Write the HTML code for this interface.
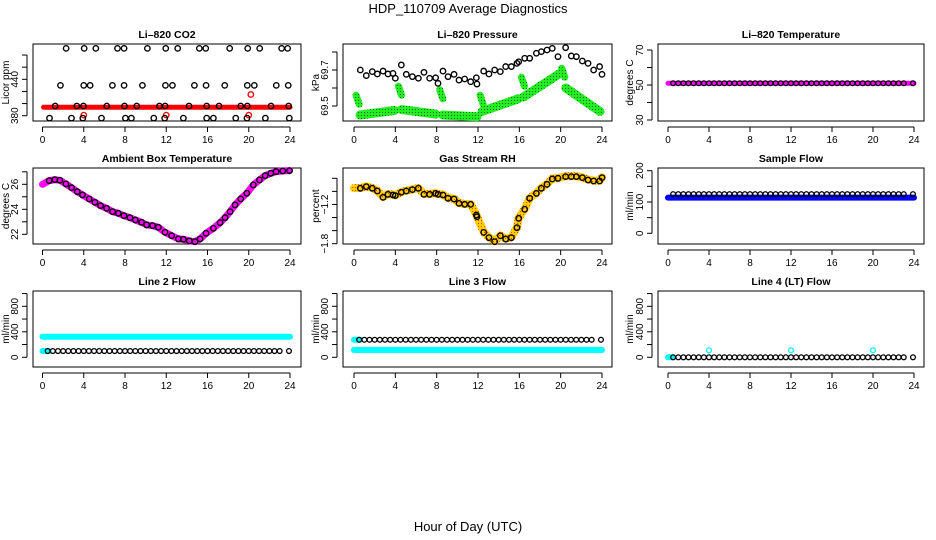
<!DOCTYPE html>
<html><head><meta charset="utf-8">
<style>
body{margin:0;background:#fff;}
svg{display:block;font-family:"Liberation Sans",Arial,sans-serif;}
</style></head>
<body>
<svg id="chart" width="936" height="540" viewBox="0 0 936 540">
<defs>
<pattern id="dots" width="3" height="3" patternUnits="userSpaceOnUse"><rect width="3" height="3" fill="#22ee22"/><rect x="1" y="1" width="1" height="1" fill="#116611"/></pattern>
<pattern id="odots" width="3" height="3" patternUnits="userSpaceOnUse"><rect width="3" height="3" fill="#ffcc00"/><rect x="1" y="1" width="1" height="1" fill="#ee4400"/></pattern>
</defs>
<text x="468" y="13" text-anchor="middle" font-size="13">HDP_110709  Average Diagnostics</text>
<text x="468" y="531" text-anchor="middle" font-size="13">Hour of Day (UTC)</text>
</svg>
<script>
// ---------- data ----------
const xTicks = [0,4,8,12,16,20,24];
const hrs = [0.5,1,1.5,2,2.5,3,3.5,4,4.5,5,5.5,6,6.5,7,7.5,8,8.5,9,9.5,10,10.5,11,11.5,12,12.5,13,13.5,14,14.5,15,15.5,16,16.5,17,17.5,18,18.5,19,19.5,20,20.5,21,21.5,22,22.5,23,23.9];

const co2Hours = [0.68,1.23,1.74,2.29,2.81,3.33,3.91,3.97,4.0,4.04,4.62,5.17,5.72,6.23,6.78,7.27,7.91,7.91,7.95,8.04,8.62,9.14,9.69,10.17,10.79,11.34,11.85,11.89,11.92,11.95,12.6,13.11,13.66,14.21,14.73,15.21,15.83,15.86,15.92,15.92,16.57,17.12,17.67,18.15,18.74,19.22,19.83,19.86,19.86,19.9,20.54,21.06,21.61,22.16,22.67,23.19,23.77,23.83,23.87,23.93];
const co2Vals = [376,396,430,491,376,396,376,396,430,491,430,491,376,396,430,491,491,430,396,376,376,396,430,491,376,396,376,396,430,491,430,491,376,396,430,491,491,430,396,376,376,396,430,491,376,396,376,396,430,491,430,491,376,396,430,491,491,430,396,376];
const co2RedOutH = [4.0,12.0,20.0,20.2];
const co2RedOutV = [381,381,381,415];
const co2BandV = 394;

const presHours = [0.61,1.19,1.77,2.26,2.81,3.29,3.77,4.0,4.58,5.06,5.65,6.23,6.77,7.32,7.9,8.13,8.61,9.1,9.68,10.16,10.71,11.29,11.84,11.9,12.55,13.06,13.61,14.16,14.68,15.23,15.77,15.94,16.52,17.0,17.65,18.13,18.68,19.19,19.74,20.48,21.03,21.52,22.1,22.65,23.19,23.77,24.0];
const presVals = [69.7,69.669,69.691,69.678,69.694,69.678,69.681,69.654,69.728,69.676,69.663,69.654,69.687,69.654,69.657,69.626,69.694,69.663,69.676,69.644,69.65,69.635,69.657,69.622,69.694,69.678,69.7,69.691,69.719,69.719,69.737,69.746,69.765,69.765,69.793,69.802,69.811,69.82,69.774,69.824,69.778,69.774,69.75,69.737,69.7,69.719,69.676];
const greenStart = [0.6,4.6,8.6,12.4,16.4,20.5];
const greenEnd = [3.9,7.9,11.9,15.9,19.9,23.8];
const greenV0 = [69.45,69.48,69.45,69.47,69.55,69.60];
const greenV1 = [69.475,69.455,69.44,69.54,69.68,69.47];
const blobH = [0.2,4.3,8.3,12.2,16.2,20.1];
const blobV = [69.56,69.61,69.59,69.56,69.66,69.71];

const licorTempVals = hrs.map(()=>51);
const ambHours = [0.65,1.2,1.68,2.27,2.82,3.37,3.88,4.53,5.08,5.63,6.21,6.8,7.35,7.9,8.48,9.0,9.61,10.1,10.68,11.23,11.88,12.52,13.17,13.66,14.24,14.79,15.28,15.86,16.57,17.22,17.7,18.19,18.67,19.22,19.81,20.45,21.04,21.59,22.14,22.65,23.3,23.95];
const ambVals = [26.29,26.37,26.32,26.03,25.73,25.41,25.15,24.83,24.56,24.29,24.08,23.81,23.68,23.49,23.33,23.15,22.96,22.75,22.69,22.56,22.16,21.89,21.63,21.6,21.47,21.41,21.63,22.08,22.48,22.93,23.33,23.81,24.35,24.83,25.28,25.95,26.35,26.69,26.88,27.01,27.07,27.09];
const rhVals = [-0.953,-0.928,-0.953,-0.994,-1.091,-1.045,-1.055,-1.065,-1.014,-0.994,-0.973,-0.953,-1.045,-1.045,-1.03,-1.045,-1.055,-1.106,-1.116,-1.183,-1.198,-1.198,-1.361,-1.387,-1.627,-1.708,-1.769,-1.678,-1.729,-1.708,-1.555,-1.412,-1.274,-1.106,-1.03,-0.953,-0.892,-0.81,-0.8,-0.774,-0.774,-0.774,-0.79,-0.826,-0.841,-0.841,-0.79];
const sampleBlack = 125, sampleBlue = 114;
const line2Cyan = 322, line2Black = 98;
const line3Black = 275, line3Cyan = 115;
const line4Black = 0;
const line4CyanOutH = [4,12,20];
const line4CyanOutV = [110,110,110];

// ---------- layout ----------
const NS='http://www.w3.org/2000/svg';
const svg=document.getElementById('chart');
const cols=[{b0:33,b1:301,xa:42.5,xb:290,yl:9},{b0:343,b1:612,xa:354,xb:602,yl:319},{b0:658,b1:924,xa:668,xb:914,yl:633}];
const rows=[{t:44,b:121},{t:168,b:244},{t:291,b:367}];
function el(tag,attrs,parent){const e=document.createElementNS(NS,tag);for(const k in attrs)e.setAttribute(k,attrs[k]);(parent||svg).appendChild(e);return e;}

function panel(name,title,ci,ri,ylab,v0,p0,v1,p1,yticks,ylabels){
  const c=cols[ci],r=rows[ri];
  const g=el('g',{});
  
  
  const X=h=>c.xa+(h/24)*(c.xb-c.xa);
  const Y=v=>p0+(v-v0)*(p1-p0)/(v1-v0);
  const box=el('rect',{x:c.b0,y:r.t,width:c.b1-c.b0,height:r.b-r.t,fill:'none',stroke:'#000','stroke-width':1},g);
  
  
  const t=el('text',{x:(c.b0+c.b1)/2,y:r.t-6,'text-anchor':'middle','font-size':10.5,'font-weight':'bold'},g);
  t.textContent=title;
  
  
  const xa=el('g',{},g);
  
  
  el('line',{x1:X(0),x2:X(24),y1:r.b+6,y2:r.b+6,stroke:'#000'},xa);
  xTicks.forEach(h=>{
    el('line',{x1:X(h),x2:X(h),y1:r.b+6,y2:r.b+11,stroke:'#000'},xa);
    const tl=el('text',{x:X(h),y:r.b+22,'text-anchor':'middle','font-size':10},xa);tl.textContent=h;
    
    
  });
  const ya=el('g',{},g);
  
  
  el('line',{x1:c.b0-6,x2:c.b0-6,y1:Y(yticks[0]),y2:Y(yticks[yticks.length-1]),stroke:'#000'},ya);
  yticks.forEach(v=>el('line',{x1:c.b0-11,x2:c.b0-6,y1:Y(v),y2:Y(v),stroke:'#000'},ya));
  ylabels.forEach(v=>{
    const yy=Y(v);
    const tl=el('text',{x:c.b0-15,y:yy,'text-anchor':'middle','font-size':10,transform:`rotate(-90 ${c.b0-15} ${yy})`},ya);
    tl.textContent=String(v).replace('-','\u2212');
    
    
  });
  const yt=el('text',{x:c.yl,y:(r.t+r.b)/2,'text-anchor':'middle','font-size':10,transform:`rotate(-90 ${c.yl} ${(r.t+r.b)/2})`},g);
  yt.textContent=ylab;
  
  
  return {g,X,Y};
}
function circles(p,hs,vs,color,name,r,sw){
  hs.forEach((h,i)=>{const cc=el('circle',{cx:p.X(h),cy:p.Y(vs[i]),r:r||2.7,fill:'none',stroke:color,'stroke-width':sw||1.4},p.g);
    
    });
}
function band(p,h0,h1,v0,v1,color,w,name){
  const l=el('line',{x1:p.X(h0),x2:p.X(h1),y1:p.Y(v0),y2:p.Y(v1),stroke:color,'stroke-width':w,'stroke-linecap':'round'},p.g);
  
  
}
function poly(p,hs,vs,color,w,name){
  const l=el('polyline',{points:hs.map((h,i)=>p.X(h)+','+p.Y(vs[i])).join(' '),fill:'none',stroke:color,'stroke-width':w,'stroke-linejoin':'round','stroke-linecap':'round'},p.g);
  
  
}
const constArr=(n,v)=>Array(n).fill(v);

// CO2
let p=panel('co2','Li\u2013820 CO2',0,0,'Licor ppm',380,115.7,440,79.3,[380,400,420,440,460,480],[380,440]);
band(p,0.1,24,co2BandV,co2BandV,'#ff0000',5,'co2-red-band');
circles(p,co2RedOutH,co2RedOutV,'#ff0000','co2-red-point');
circles(p,co2Hours,co2Vals,'#000','co2-point');
// Pressure
p=panel('pressure','Li\u2013820 Pressure',1,0,'kPa',69.5,106,69.7,70,[69.5,69.6,69.7,69.8],[69.5,69.7]);
greenStart.forEach((s,i)=>{band(p,s,greenEnd[i],greenV0[i],greenV1[i],'url(#dots)',9,'pressure-green-band');
  band(p,blobH[i],blobH[i]+0.3,blobV[i],blobV[i]-0.05,'url(#dots)',7,'pressure-green-blob');});
circles(p,presHours,presVals,'#000','pressure-point');
// Li-820 temperature
p=panel('licor-temp','Li\u2013820 Temperature',2,0,'degrees C',30,120,70,50,[30,40,50,60,70],[30,50,70]);
band(p,0,24,51,51,'#ff00ff',5,'licor-temp-band');
circles(p,hrs,licorTempVals,'#000','licor-temp-point',2.4,1.3);
// Ambient
p=panel('ambient','Ambient Box Temperature',0,1,'degrees C',22,234.3,26,184.3,[22,23,24,25,26,27],[22,24,26]);
poly(p,[0].concat(ambHours),[26.0].concat(ambVals),'#ff00ff',7,'ambient-magenta-trace');
circles(p,ambHours,ambVals,'#000','ambient-point');
// RH
p=panel('rh','Gas Stream RH',1,1,'percent',-0.8,178.3,-1.8,243.7,[-0.8,-1.0,-1.2,-1.4,-1.6,-1.8],[-1.2,-1.8]);
poly(p,[0].concat(presHours),[-0.95].concat(rhVals.map(v=>v+0.005)),'url(#odots)',8,'rh-orange-trace');
circles(p,presHours,rhVals,'#000','rh-point');
// Sample flow
p=panel('sample-flow','Sample Flow',2,1,'ml/min',0,233.3,200,170.7,[0,50,100,150,200],[0,100,200]);
band(p,0,24,sampleBlue,sampleBlue,'#0000ff',6,'sample-flow-blue-band');
circles(p,hrs,constArr(hrs.length,sampleBlack),'#000','sample-flow-point',2.4,1.3);
// Line 2
p=panel('line2','Line 2 Flow',0,2,'ml/min',0,357.3,800,306.3,[0,200,400,600,800,1000],[0,400,800]);
band(p,0,24,line2Cyan,line2Cyan,'#00ffff',6,'line2-cyan-band');
band(p,0,0.6,line2Black,line2Black,'#00ffff',6,'line2-cyan-low');
circles(p,hrs,constArr(hrs.length,line2Black),'#000','line2-point',2.4,1.3);
// Line 3
p=panel('line3','Line 3 Flow',1,2,'ml/min',0,357.3,800,306.3,[0,200,400,600,800,1000],[0,400,800]);
band(p,0,24,line3Cyan,line3Cyan,'#00ffff',6,'line3-cyan-band');
band(p,0,0.6,line3Black,line3Black,'#00ffff',6,'line3-cyan-high');
circles(p,hrs,constArr(hrs.length,line3Black),'#000','line3-point',2.4,1.3);
// Line 4
p=panel('line4','Line 4 (LT) Flow',2,2,'ml/min',0,357.3,800,306.3,[0,200,400,600,800,1000],[0,400,800]);
band(p,0,0.4,line4Black,line4Black,'#00ffff',6,'line4-cyan-start');
circles(p,line4CyanOutH,line4CyanOutV,'#00ffff','line4-cyan-point',2.4,1.3);
circles(p,hrs,constArr(hrs.length,line4Black),'#000','line4-point',2.4,1.3);
</script>
</body></html>
